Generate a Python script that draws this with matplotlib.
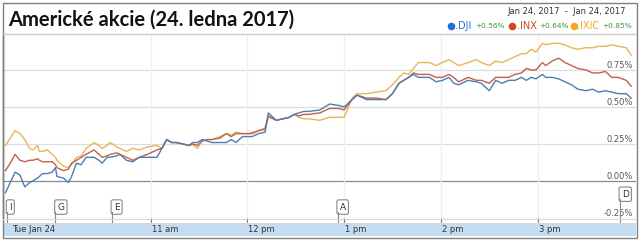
import matplotlib
matplotlib.use("Agg")
import matplotlib.pyplot as plt
from matplotlib.patches import Rectangle
from matplotlib.transforms import blended_transform_factory

# minutes after 9:30 (Jan 24, 2017) and % change for each index
minutes = [0, 3, 6, 9, 12, 15, 17, 20, 21, 23,
           26, 29, 31, 32, 36, 39, 41, 44, 47, 50,
           55, 58, 60, 63, 65, 69, 71, 75, 79, 83,
           88, 94, 97, 100, 103, 106, 110, 114, 116, 119,
           122, 125, 128, 133, 137, 140, 143, 147, 151, 153,
           157, 161, 163, 168, 172, 176, 179, 182, 185, 188,
           195, 201, 207, 210, 215, 218, 224, 230, 236, 240,
           244, 247, 250, 253, 256, 263, 267, 271, 275, 278,
           281, 287, 292, 295, 300, 304, 308, 312, 316, 320,
           323, 326, 329, 333, 335, 339, 343, 347, 351, 355,
           360, 364, 368, 372, 376, 380, 385, 388]

ixic = [0.24, 0.29, 0.34, 0.32, 0.28, 0.22, 0.21, 0.24, 0.20, 0.20,
        0.21, 0.18, 0.16, 0.14, 0.10, 0.09, 0.11, 0.16, 0.17, 0.22,
        0.26, 0.24, 0.22, 0.24, 0.26, 0.23, 0.22, 0.20, 0.22, 0.21,
        0.23, 0.24, 0.22, 0.28, 0.26, 0.26, 0.25, 0.24, 0.25, 0.22,
        0.27, 0.28, 0.28, 0.30, 0.32, 0.31, 0.33, 0.32, 0.32, 0.33,
        0.34, 0.36, 0.43, 0.41, 0.42, 0.43, 0.45, 0.43, 0.42, 0.42,
        0.41, 0.43, 0.43, 0.43, 0.56, 0.59, 0.59, 0.60, 0.61, 0.65,
        0.70, 0.73, 0.72, 0.76, 0.80, 0.80, 0.78, 0.80, 0.82, 0.80,
        0.78, 0.80, 0.82, 0.80, 0.78, 0.81, 0.80, 0.82, 0.84, 0.86,
        0.86, 0.89, 0.87, 0.93, 0.92, 0.93, 0.93, 0.92, 0.90, 0.89,
        0.90, 0.90, 0.91, 0.91, 0.92, 0.91, 0.90, 0.85]

inx = [0.07, 0.12, 0.18, 0.14, 0.13, 0.14, 0.14, 0.15, 0.14, 0.13,
       0.13, 0.13, 0.11, 0.09, 0.07, 0.08, 0.12, 0.14, 0.16, 0.18,
       0.21, 0.18, 0.16, 0.17, 0.18, 0.19, 0.18, 0.16, 0.14, 0.16,
       0.18, 0.21, 0.22, 0.28, 0.26, 0.26, 0.25, 0.24, 0.25, 0.24,
       0.27, 0.28, 0.28, 0.29, 0.32, 0.30, 0.32, 0.32, 0.32, 0.32,
       0.34, 0.35, 0.44, 0.41, 0.42, 0.43, 0.45, 0.44, 0.45, 0.45,
       0.46, 0.49, 0.49, 0.48, 0.55, 0.58, 0.56, 0.56, 0.55, 0.59,
       0.66, 0.68, 0.70, 0.73, 0.72, 0.72, 0.70, 0.70, 0.72, 0.70,
       0.67, 0.70, 0.68, 0.68, 0.66, 0.70, 0.70, 0.70, 0.72, 0.73,
       0.76, 0.75, 0.75, 0.80, 0.78, 0.81, 0.83, 0.80, 0.78, 0.76,
       0.75, 0.73, 0.73, 0.74, 0.70, 0.70, 0.68, 0.64]

dji = [-0.08, -0.01, 0.06, 0.04, -0.04, -0.01, 0.00, 0.02, 0.03, 0.05,
       0.05, 0.06, 0.09, 0.03, 0.02, -0.01, 0.03, 0.12, 0.11, 0.16,
       0.16, 0.14, 0.12, 0.16, 0.16, 0.17, 0.18, 0.14, 0.13, 0.16,
       0.16, 0.16, 0.22, 0.28, 0.26, 0.26, 0.25, 0.24, 0.26, 0.26,
       0.28, 0.27, 0.26, 0.26, 0.26, 0.28, 0.26, 0.30, 0.30, 0.30,
       0.32, 0.33, 0.46, 0.41, 0.42, 0.43, 0.45, 0.46, 0.47, 0.47,
       0.48, 0.52, 0.51, 0.50, 0.55, 0.58, 0.55, 0.55, 0.55, 0.59,
       0.66, 0.68, 0.70, 0.72, 0.70, 0.70, 0.67, 0.68, 0.70, 0.66,
       0.65, 0.68, 0.67, 0.66, 0.61, 0.68, 0.66, 0.68, 0.68, 0.70,
       0.68, 0.70, 0.69, 0.72, 0.70, 0.70, 0.69, 0.67, 0.65, 0.62,
       0.61, 0.62, 0.60, 0.61, 0.60, 0.59, 0.59, 0.56]

series_names = [".DJI", ".INX", ".IXIC"]
series_changes = ["+0.56%", "+0.64%", "+0.85%"]
line_colors = ["#4a7fb0", "#c0604e", "#eab45a"]
dot_colors = ["#1f6fd6", "#d2451e", "#f5a623"]

y_ticks = [-0.25, 0.0, 0.25, 0.50, 0.75]
y_labels = ["-0.25%", "0.00%", "0.25%", "0.50%", "0.75%"]
x_ticks = [90, 150, 210, 270, 330]
x_labels = ["11 am", "12 pm", "1 pm", "2 pm", "3 pm"]

flag_letters = ["I", "G", "E", "A", "D"]
flag_minutes = [1, 31, 66, 206, 381]

W, H = 640, 240
fig = plt.figure(figsize=(W / 100, H / 100), dpi=100)
fig.patch.set_facecolor("white")


def fx(px):
    return px / W


def fy(py):
    return 1 - py / H


ax = fig.add_axes([fx(3), fy(218), fx(636) - fx(3), fy(34) - fy(218)])
ax.set_xlim(-1.5, 391)
ax.set_ylim(-0.25, 0.993)

for v, lab in zip(y_ticks, y_labels):
    if v == 0:
        ax.axhline(v, color="#8a8a8a", lw=0.9, zorder=1)
    else:
        ax.axhline(v, color="#dddddd", lw=0.9, zorder=1)
    ax.text(0.995, v, lab, transform=ax.get_yaxis_transform(),
            ha="right", va="bottom", fontsize=6, color="#555555")
for t in x_ticks:
    ax.axvline(t, color="#eeeeee", lw=0.9, zorder=1)

ax.plot(minutes, ixic, color=line_colors[2], lw=1.0, zorder=3)
ax.plot(minutes, inx, color=line_colors[1], lw=1.0, zorder=4)
ax.plot(minutes, dji, color=line_colors[0], lw=1.0, zorder=5)

ax.set_xticks(x_ticks)
ax.set_xticklabels([])
ax.set_yticks([])
ax.tick_params(axis="x", direction="out", length=3, color="#666666", width=0.8)
for s in ["top", "right", "bottom"]:
    ax.spines[s].set_visible(False)
ax.spines["left"].set_color("#555555")
ax.spines["left"].set_linewidth(1.0)

# event flags
for letter, t in zip(flag_letters, flag_minutes):
    ybox = 0.105 if letter == "D" else 0.035
    ax.text(t + 1.2, ybox, letter, transform=ax.get_xaxis_transform(),
            ha="left", va="bottom", fontsize=6.5, color="#333333", zorder=6,
            bbox=dict(boxstyle="round,pad=0.3,rounding_size=0.2", fc="white",
                      ec="#888888", lw=0.8))
    ax.plot([t, t], [ybox, -0.03], transform=ax.get_xaxis_transform(),
            color="#888888", lw=0.8, clip_on=False, zorder=6)

# overlay in pixel coordinates for the frame
ov = fig.add_axes([0, 0, 1, 1], facecolor="none")
ov.set_xlim(0, W)
ov.set_ylim(H, 0)
ov.axis("off")
ov.add_patch(Rectangle((3, 223), 633, 13, fc="#c6dcf1", ec="none", zorder=1))
ov.add_patch(Rectangle((2.5, 2.5), 634, 235, fc="none", ec="#808080", lw=1.0))
ov.plot([3, 636], [34, 34], color="#cccccc", lw=1.0)
ov.plot([3, 636], [218.5, 218.5], color="#d5d5d5", lw=0.8)

# bottom time labels (time on x, pixel row on y)
band = blended_transform_factory(ax.transData, ov.transData)
ov.text(4, 230, "Tue Jan 24", transform=band, ha="left", va="center",
        fontsize=6, color="#333333", zorder=3)
for t, lab in zip(x_ticks, x_labels):
    ov.text(t + 0.6, 230, lab, transform=band, ha="left", va="center",
            fontsize=6, color="#333333", zorder=3)

fig.text(fx(8), fy(20), "Americké akcie (24. ledna 2017)", fontsize=14.5,
         fontweight="bold", family="Lato", ha="left", va="center", color="#111111")
fig.text(fx(626), fy(12), "Jan 24, 2017  -  Jan 24, 2017", fontsize=6,
         ha="right", va="center", color="#333333")

# legend row
dot_x = [451, 512, 574]
name_x = [455.5, 516.5, 577.5]
change_x = [475, 539, 602]
for i in range(3):
    ov.plot(dot_x[i], 26, "o", ms=5.5, color=dot_colors[i], mec="none", zorder=2)
    ov.text(name_x[i], 26, series_names[i], fontsize=7, color=dot_colors[i],
            ha="left", va="center", zorder=3)
    ov.text(change_x[i], 26.5, series_changes[i], fontsize=5.3,
            color="#3c9a3c", ha="left", va="center")

fig.savefig("out.png", dpi=100)
